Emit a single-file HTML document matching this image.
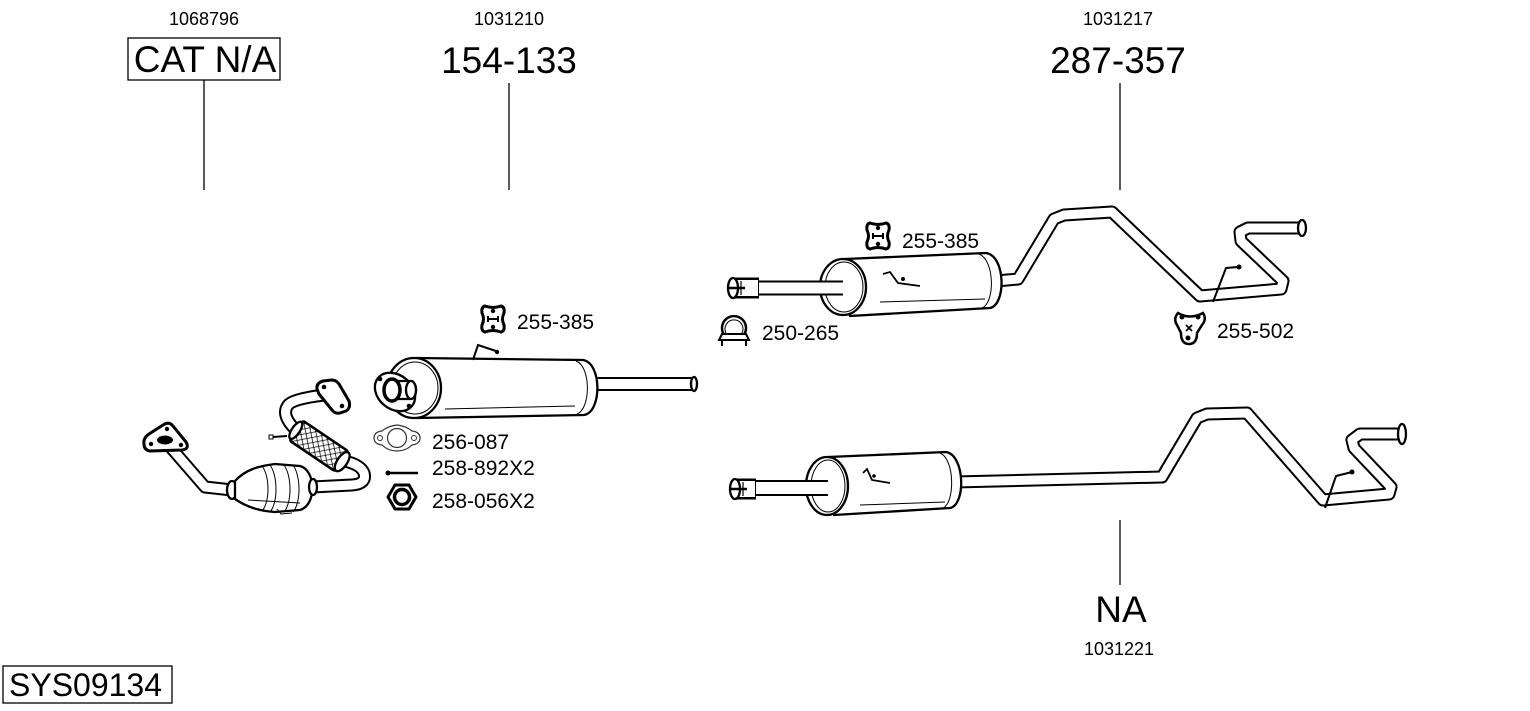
<!DOCTYPE html>
<html><head><meta charset="utf-8"><style>
html,body{margin:0;padding:0;background:#fff;}
svg{display:block}
text{font-family:"Liberation Sans",Arial,sans-serif;fill:#000}
.po{fill:none;stroke:#000;stroke-width:13;stroke-linejoin:round;stroke-linecap:butt}
.pi{fill:none;stroke:#fff;stroke-width:9;stroke-linejoin:round;stroke-linecap:butt}
.ln{stroke:#000;stroke-width:1.3;fill:none}
.s{fill:#fff;stroke:#000;stroke-width:2.3;stroke-linejoin:round}
.t{fill:none;stroke:#000;stroke-width:1}
</style></head><body>
<svg width="1530" height="711" viewBox="0 0 1530 711" xmlns="http://www.w3.org/2000/svg">
<defs>
<pattern id="hatch" width="5" height="5" patternUnits="userSpaceOnUse" patternTransform="rotate(45)">
<rect width="5" height="5" fill="#fff"/>
<path d="M0 0 L0 5 M0 0 L5 0" stroke="#000" stroke-width="1.4"/>
</pattern>
</defs>

<!-- Labels -->
<text x="204" y="25" font-size="18" text-anchor="middle">1068796</text>
<rect x="128" y="38" width="152" height="42" fill="none" stroke="#000" stroke-width="1.3"/>
<text x="205" y="72" font-size="37" text-anchor="middle">CAT N/A</text>
<line class="ln" x1="204" y1="80" x2="204" y2="190"/>

<text x="509" y="25" font-size="18" text-anchor="middle">1031210</text>
<text x="509" y="73" font-size="37" text-anchor="middle">154-133</text>
<line class="ln" x1="509" y1="83" x2="509" y2="190"/>

<text x="1118" y="25" font-size="18" text-anchor="middle">1031217</text>
<text x="1118" y="73" font-size="37" text-anchor="middle">287-357</text>
<line class="ln" x1="1120" y1="83" x2="1120" y2="190"/>

<line class="ln" x1="1120" y1="520" x2="1120" y2="585"/>
<text x="1121" y="622" font-size="37" text-anchor="middle">NA</text>
<text x="1119" y="655" font-size="18" text-anchor="middle">1031221</text>

<rect x="3" y="666" width="169" height="37" fill="none" stroke="#000" stroke-width="1.3"/>
<text x="9" y="696" font-size="32">SYS09134</text>

<text x="517" y="329" font-size="21">255-385</text>
<text x="432" y="449" font-size="21">256-087</text>
<text x="432" y="475" font-size="21">258-892X2</text>
<text x="432" y="508" font-size="21">258-056X2</text>
<text x="902" y="248" font-size="21">255-385</text>
<text x="762" y="340" font-size="21">250-265</text>
<text x="1217" y="338" font-size="21">255-502</text>

<!-- ===== Catalytic converter assembly ===== -->
<polyline class="po" points="166,442 205,487 232,490"/>
<polyline class="pi" points="166,442 205,487 232,490"/>
<path d="M144 444 Q143 438 149 434 L163 425 Q169 421 173 426 L186 442 Q190 449 182 450 L150 451 Q144 450 144 444 Z" fill="#fff" stroke="#000" stroke-width="3" stroke-linejoin="round"/>
<circle cx="151" cy="444" r="2.2"/>
<circle cx="167" cy="429" r="2.2"/>
<circle cx="181" cy="445" r="2.2"/>
<ellipse cx="165" cy="440" rx="8" ry="4.5"/>

<!-- U pipe to flex -->
<path class="po" d="M312 487 L352 485 Q367 484 364 473 Q361 465 345 461"/>
<path class="pi" d="M312 487 L352 485 Q367 484 364 473 Q361 465 345 461"/>
<!-- upper pipe -->
<path class="po" d="M298 432 Q279 415 289 404 Q296 398 332 394"/>
<path class="pi" d="M298 432 Q279 415 289 404 Q296 398 332 394"/>
<!-- flex -->
<g transform="translate(319,446) rotate(34)">
<rect x="-28" y="-12" width="56" height="24" rx="3" fill="url(#hatch)" stroke="#000" stroke-width="2.5"/>
<ellipse cx="28" cy="0" rx="5" ry="11" class="s"/>
<ellipse cx="-28" cy="0" rx="4" ry="10" class="s"/>
</g>
<!-- upper flange -->
<path d="M317 389 Q316 383 323 381 L332 380 Q336 380 339 384 L349 401 Q351 408 346 411 L340 413 Q335 414 332 410 L319 394 Z" fill="#fff" stroke="#000" stroke-width="3" stroke-linejoin="round"/>
<circle cx="324" cy="387" r="2.3"/>
<circle cx="342" cy="406" r="2.3"/>
<!-- cat body -->
<ellipse cx="232" cy="490" rx="5" ry="9" class="s"/>
<path class="s" d="M235 481 C245 470 258 466 275 464 L300 466 C316 470 317 505 300 510 L275 512 C258 511 245 506 235 499 Z"/>
<path class="t" d="M262 466 C270 476 270 502 262 511 M270 465 C278 476 278 503 270 512 M284 465 C292 476 292 503 284 512 M293 465 C301 476 301 503 293 512"/>
<path class="t" d="M248 500 L300 503"/>
<ellipse cx="313" cy="487" rx="4" ry="8" class="s"/>
<!-- sensor -->
<line x1="273" y1="437" x2="287" y2="436" stroke="#000" stroke-width="2"/>
<rect x="269" y="435" width="4" height="4" fill="#fff" stroke="#000" stroke-width="1"/>
<polyline points="277,509 281,514 292,513" class="t" stroke-width="1.5"/>

<!-- ===== Muffler 154-133 ===== -->
<polyline class="po" points="588,384 693,384" style="stroke-width:14"/>
<polyline class="pi" points="588,384 693,384" style="stroke-width:10"/>
<ellipse cx="694" cy="384" rx="3" ry="7" class="s" stroke-width="1.5"/>
<path class="s" stroke-width="2.5" d="M416 358 L583 360 C602 363 602 412 584 415 L416 418 Z"/>
<path class="t" d="M576 361 C591 366 591 409 577 414"/>
<path class="t" d="M445 409 L575 406"/>
<ellipse cx="414" cy="388" rx="27" ry="30" class="s" stroke-width="2.5"/>
<ellipse cx="415" cy="388" rx="23" ry="26" class="t"/>
<ellipse cx="395" cy="392" rx="22" ry="17" transform="rotate(40 395 392)" class="s" stroke-width="2.5"/>
<path class="s" stroke-width="1.6" d="M395 381 L411 381 A5 9 0 0 1 411 399 L395 399 Z"/>
<ellipse cx="411" cy="390" rx="5" ry="9" class="s" stroke-width="1.6"/>
<ellipse cx="392" cy="390" rx="8" ry="11" fill="#fff" stroke="#000" stroke-width="3.5"/>
<circle cx="380" cy="379" r="2.3"/>
<circle cx="409" cy="406" r="2.3"/>
<polyline points="473,360 478,345 496,351" fill="none" stroke="#000" stroke-width="2"/>
<circle cx="497" cy="352" r="2.2"/>

<!-- hanger icon 255-385 -->
<g transform="translate(493,319)">
<path d="M-8 -13 Q0 -10 8 -13 Q12 -12 11 -6 Q8 0 11 6 Q12 12 8 13 Q0 10 -8 13 Q-12 12 -11 6 Q-8 0 -11 -6 Q-12 -12 -8 -13 Z" fill="#fff" stroke="#000" stroke-width="3"/>
<circle cx="0" cy="-8" r="2.2"/><circle cx="0" cy="8" r="2.2"/>
<path d="M-5 -3 L-5 3 M5 -3 L5 3 M-5 0 L5 0" stroke="#000" stroke-width="2"/>
</g>

<!-- gasket -->
<path d="M374 438 Q374 432 382 431 Q388 426 397 425 Q406 426 412 431 Q420 432 420 438 Q420 444 412 445 Q406 451 397 451 Q388 451 382 445 Q374 444 374 438 Z" fill="#fff" stroke="#333" stroke-width="1.2"/>
<circle cx="397" cy="438" r="9.5" fill="none" stroke="#333" stroke-width="1.2"/>
<circle cx="380" cy="438" r="2.5" fill="none" stroke="#333" stroke-width="1"/>
<circle cx="414" cy="438" r="2.5" fill="none" stroke="#333" stroke-width="1"/>
<!-- bolt -->
<line x1="389" y1="473" x2="418" y2="473" stroke="#000" stroke-width="2.5"/>
<circle cx="388" cy="473" r="2.5"/>
<!-- nut -->
<polygon points="416,497 409,485 395,485 388,497 395,509 409,509" fill="#fff" stroke="#000" stroke-width="3" stroke-linejoin="round"/>
<circle cx="402" cy="497" r="7.5" fill="#fff" stroke="#000" stroke-width="3.5"/>

<!-- ===== Top-right system 287-357 ===== -->
<polyline class="po" points="996,281 1018,279 1054,219 1064,215 1112,212 1200,296 1281,289 1283,281 1241,241 1240,232 1248,228 1300,228"/>
<polyline class="pi" points="996,281 1018,279 1054,219 1064,215 1112,212 1200,296 1281,289 1283,281 1241,241 1240,232 1248,228 1300,228"/>
<ellipse cx="1302" cy="228" rx="4" ry="8" class="s" stroke-width="1.8"/>
<path class="s" stroke-width="2.5" d="M845 259 L986 253 C1006 256 1006 305 990 308 L850 316 Z"/>
<path class="t" d="M979 254 C995 260 995 303 982 308"/>
<path class="t" d="M880 302 L985 299"/>
<ellipse cx="843" cy="287" rx="23" ry="28" class="s" stroke-width="2.5"/>
<ellipse cx="844" cy="287" rx="19" ry="25" class="t"/>
<polyline points="758,288 843,288" class="po" style="stroke-width:15"/>
<polyline points="758,288 843,288" class="pi" style="stroke-width:11"/>
<polyline points="735,288 759,288" fill="none" stroke="#000" stroke-width="21"/>
<polyline points="735,288 758,288" fill="none" stroke="#fff" stroke-width="16"/>
<ellipse cx="733" cy="288" rx="5" ry="10" class="s" stroke-width="2"/>
<line x1="729" y1="288" x2="745" y2="288" stroke="#000" stroke-width="2.5"/>
<line x1="741" y1="281" x2="741" y2="295" stroke="#000" stroke-width="1.2"/>
<polyline points="883,274 890,272 898,283 920,286" fill="none" stroke="#000" stroke-width="1.8"/>
<circle cx="903" cy="279" r="2"/>
<polyline points="1238,267 1226,268 1213,302" fill="none" stroke="#000" stroke-width="2"/>
<circle cx="1239" cy="267" r="2.5"/>

<!-- hanger icon 255-385 (right) -->
<g transform="translate(878,236)">
<path d="M-8 -13 Q0 -10 8 -13 Q12 -12 11 -6 Q8 0 11 6 Q12 12 8 13 Q0 10 -8 13 Q-12 12 -11 6 Q-8 0 -11 -6 Q-12 -12 -8 -13 Z" fill="#fff" stroke="#000" stroke-width="3"/>
<circle cx="0" cy="-8" r="2.2"/><circle cx="0" cy="8" r="2.2"/>
<path d="M-5 -3 L-5 3 M5 -3 L5 3 M-5 0 L5 0" stroke="#000" stroke-width="2"/>
</g>

<!-- clamp 250-265 -->
<path d="M725 336 A12 12 0 1 1 743 336" fill="none" stroke="#000" stroke-width="2.5"/>
<path d="M726 333 A9 9 0 1 1 742 333" fill="none" stroke="#000" stroke-width="1"/>
<path d="M719 340 L749 340 L746 334 L722 334 Z" fill="#fff" stroke="#000" stroke-width="2"/>
<line x1="722" y1="340" x2="722" y2="346" stroke="#000" stroke-width="2"/>
<line x1="746" y1="340" x2="746" y2="346" stroke="#000" stroke-width="2"/>

<!-- hanger 255-502 -->
<path d="M1178 313 Q1190 320 1203 313 Q1207 319 1202 325 L1197 333 Q1197 344 1189 344 Q1181 344 1181 333 L1177 325 Q1173 319 1178 313 Z" fill="#fff" stroke="#000" stroke-width="2.5"/>
<circle cx="1182" cy="317" r="2.5"/>
<circle cx="1198" cy="317" r="2.5"/>
<circle cx="1188" cy="338" r="2.5"/>
<path d="M1186 325 L1192 331 M1192 325 L1186 331" stroke="#000" stroke-width="1.8"/>

<!-- ===== Bottom system NA ===== -->
<polyline class="po" points="955,482 1162,477 1197,418 1207,414 1247,413 1323,500 1389,494 1391,487 1354,448 1352,440 1360,434 1400,434"/>
<polyline class="pi" points="955,482 1162,477 1197,418 1207,414 1247,413 1323,500 1389,494 1391,487 1354,448 1352,440 1360,434 1400,434"/>
<ellipse cx="1402" cy="434" rx="4" ry="10" class="s" stroke-width="1.8"/>
<path class="s" stroke-width="2.5" d="M828 457 L946 452 C965 455 966 505 950 508 L834 515 Z"/>
<path class="t" d="M940 453 C955 459 955 503 943 508"/>
<path class="t" d="M860 505 L945 502"/>
<ellipse cx="827" cy="486" rx="21" ry="29" class="s" stroke-width="2.5"/>
<ellipse cx="828" cy="486" rx="17" ry="26" class="t"/>
<polyline points="755,488 828,488" class="po" style="stroke-width:16"/>
<polyline points="755,488 828,488" class="pi" style="stroke-width:12"/>
<polyline points="737,489 756,489" fill="none" stroke="#000" stroke-width="21"/>
<polyline points="737,489 755,489" fill="none" stroke="#fff" stroke-width="16"/>
<ellipse cx="735" cy="489" rx="5" ry="10" class="s" stroke-width="2"/>
<line x1="731" y1="489" x2="747" y2="489" stroke="#000" stroke-width="2.5"/>
<line x1="743" y1="482" x2="743" y2="496" stroke="#000" stroke-width="1.2"/>
<polyline points="863,473 867,469 872,480 890,483" fill="none" stroke="#000" stroke-width="1.8"/>
<circle cx="874" cy="476" r="1.8"/>
<polyline points="1352,472 1336,476 1325,508" fill="none" stroke="#000" stroke-width="2"/>
<circle cx="1352" cy="472" r="2.5"/>
</svg>
</body></html>
